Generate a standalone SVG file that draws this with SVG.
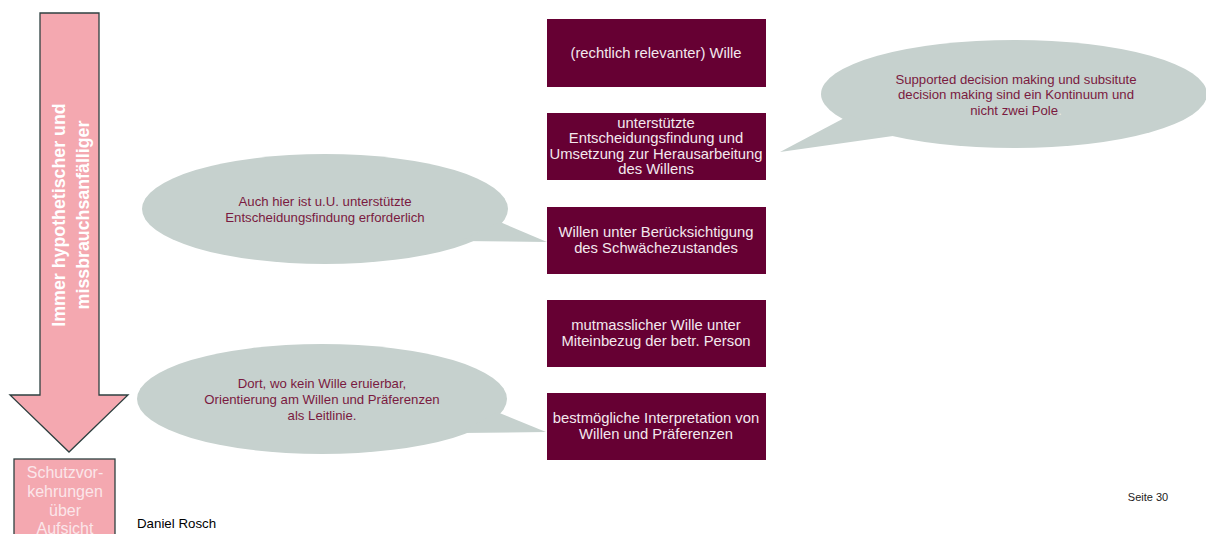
<svg xmlns="http://www.w3.org/2000/svg" width="1206" height="534" viewBox="0 0 1206 534">
<style>
.box{fill:#660033}
.bt{font-family:"Liberation Sans",Arial,sans-serif;font-size:14.8px;fill:#f3e8ee;text-anchor:middle}
.bub{fill:#c6d1ce}
.ut{font-family:"Liberation Sans",Arial,sans-serif;font-size:13.2px;fill:#7a1a40;text-anchor:middle}
.pink{fill:#f4a8b0;stroke:#2e4040;stroke-width:1.3}
</style>
<rect width="1206" height="534" fill="#ffffff"/>
<g id="arrow">
<path class="pink" d="M40,13 H99 V395 H128 L69,452 L10,395 H40 Z"/>
<text transform="translate(65,215) rotate(-90)" font-family="Liberation Sans,Arial,sans-serif" font-size="17.8" font-weight="bold" fill="#ffffff" text-anchor="middle">Immer hypothetischer und</text>
<text transform="translate(89,215) rotate(-90)" font-family="Liberation Sans,Arial,sans-serif" font-size="17.8" font-weight="bold" fill="#ffffff" text-anchor="middle">missbrauchsanfälliger</text>
</g>
<g id="schutz">
<rect class="pink" x="14" y="459" width="101" height="80"/>
<g font-family="Liberation Sans,Arial,sans-serif" font-size="16" fill="#fbe6ea" text-anchor="middle">
<text x="65" y="478">Schutzvor-</text>
<text x="65" y="497">kehrungen</text>
<text x="65" y="516">über</text>
<text x="65" y="534">Aufsicht</text>
</g>
</g>
<g id="connectors"></g>
<g id="n1"><rect class="box" x="547" y="19" width="219" height="68"/><text class="bt" x="656" y="58">(rechtlich relevanter) Wille</text></g>
<g id="n2"><rect class="box" x="547" y="113" width="219" height="67"/>
<text class="bt" x="656" y="128">unterstützte</text>
<text class="bt" x="656" y="143">Entscheidungsfindung und</text>
<text class="bt" x="656" y="159">Umsetzung zur Herausarbeitung</text>
<text class="bt" x="656" y="174">des Willens</text></g>
<g id="n3"><rect class="box" x="547" y="207" width="219" height="67"/>
<text class="bt" x="656" y="237">Willen unter Berücksichtigung</text>
<text class="bt" x="656" y="253">des Schwächezustandes</text></g>
<g id="n4"><rect class="box" x="547" y="300" width="219" height="67"/>
<text class="bt" x="656" y="330">mutmasslicher Wille unter</text>
<text class="bt" x="656" y="346">Miteinbezug der betr. Person</text></g>
<g id="n5"><rect class="box" x="547" y="393" width="219" height="67"/>
<text class="bt" x="656" y="423">bestmögliche Interpretation von</text>
<text class="bt" x="656" y="439">Willen und Präferenzen</text></g>
<g id="b1">
<ellipse class="bub" cx="325" cy="209" rx="183" ry="55"/>
<polygon class="bub" points="500,222 547,242 460,241"/>
<text class="ut" x="325" y="206">Auch hier ist u.U. unterstützte</text>
<text class="ut" x="325" y="222">Entscheidungsfindung erforderlich</text>
</g>
<g id="b2">
<ellipse class="bub" cx="322" cy="399" rx="185" ry="55"/>
<polygon class="bub" points="497,412 546,432 460,433"/>
<text class="ut" x="322" y="388">Dort, wo kein Wille eruierbar,</text>
<text class="ut" x="322" y="404">Orientierung am Willen und Präferenzen</text>
<text class="ut" x="322" y="420">als Leitlinie.</text>
</g>
<g id="b3">
<ellipse class="bub" cx="1014" cy="94" rx="193" ry="54"/>
<polygon class="bub" points="850,115 780,152 900,135"/>
<text class="ut" x="1016" y="84">Supported decision making und subsitute</text>
<text class="ut" x="1016" y="99">decision making sind ein Kontinuum und</text>
<text class="ut" x="1016" y="115">nicht zwei Pole<tspan fill="#e8ecea">.</tspan></text>
</g>
<text x="137" y="528" font-family="Liberation Sans,Arial,sans-serif" font-size="13.3" fill="#000000">Daniel Rosch</text>
<text x="1148" y="501" font-family="Liberation Sans,Arial,sans-serif" font-size="11" fill="#222222" text-anchor="middle">Seite 30</text>
</svg>
